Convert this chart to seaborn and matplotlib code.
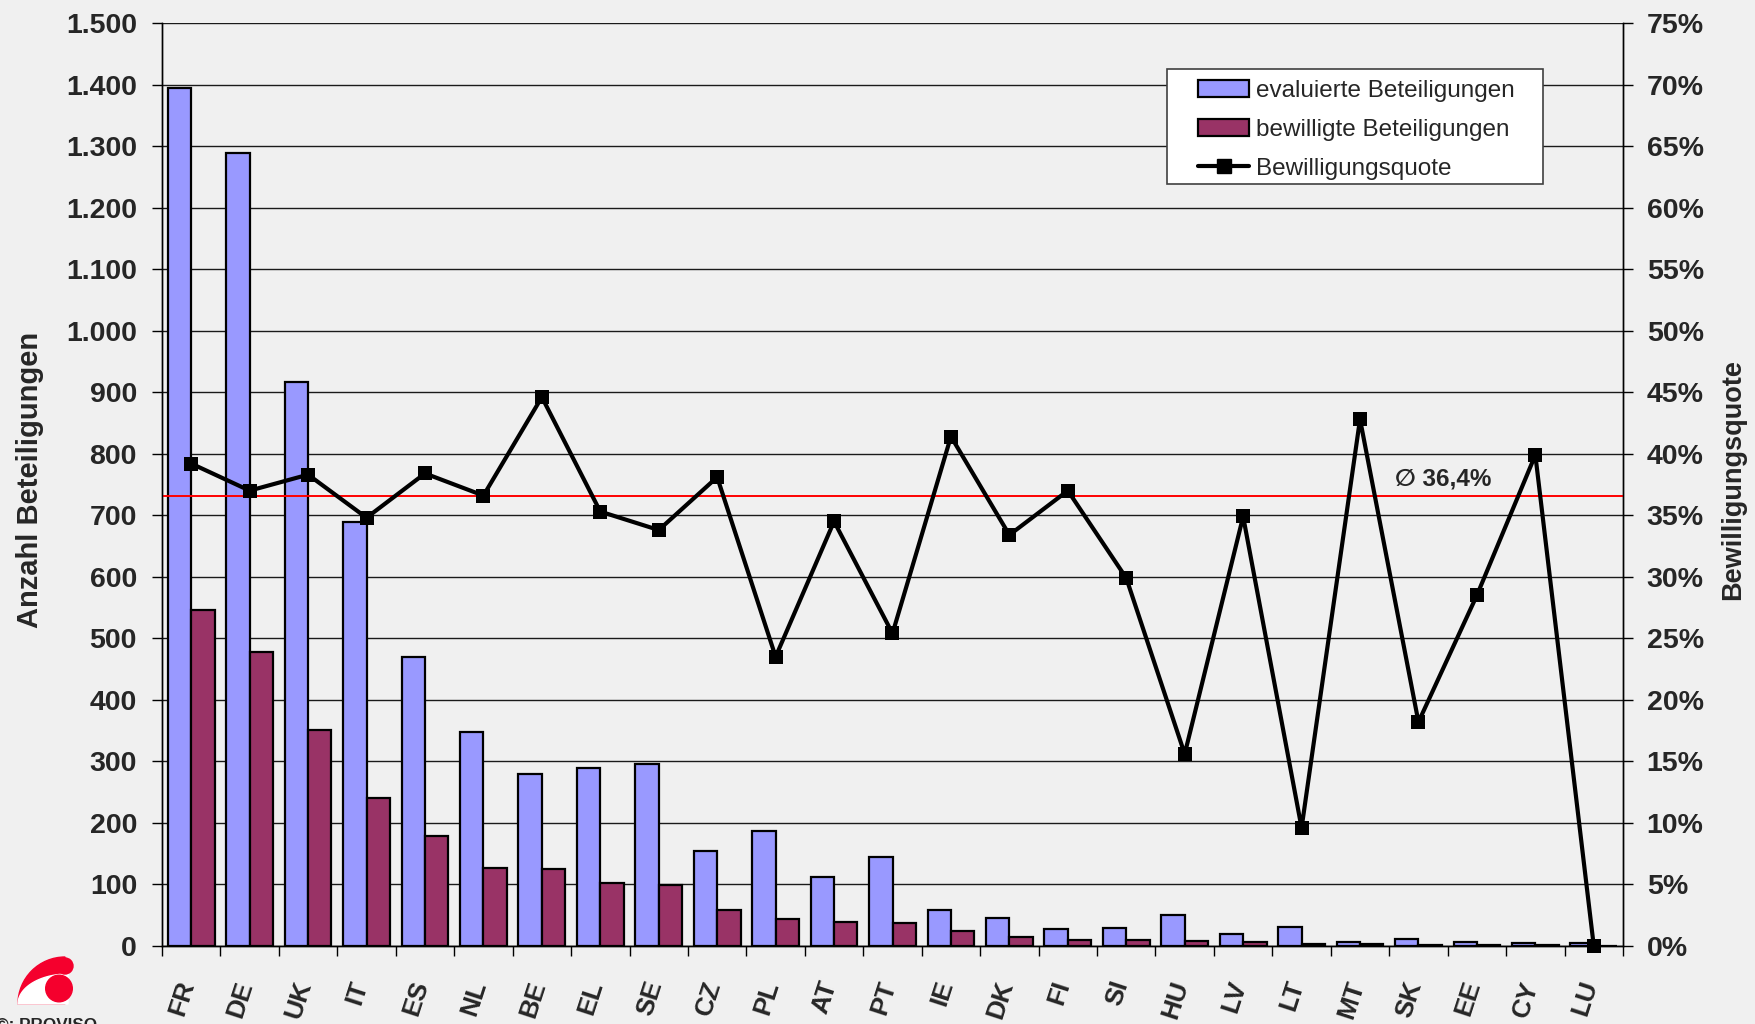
import numpy as np
import pandas as pd
import matplotlib
matplotlib.use("Agg")
import matplotlib.pyplot as plt
import seaborn as sns
from matplotlib.patches import Patch, Rectangle, Wedge, Circle, Polygon
from matplotlib.lines import Line2D
from matplotlib.ticker import FuncFormatter, MultipleLocator
from matplotlib.transforms import ScaledTranslation

# data
countries = ["FR", "DE", "UK", "IT", "ES", "NL", "BE", "EL", "SE", "CZ", "PL", "AT", "PT",
             "IE", "DK", "FI", "SI", "HU", "LV", "LT", "MT", "SK", "EE", "CY", "LU"]
evaluiert = [1394, 1289, 916, 689, 469, 347, 280, 289, 295, 155, 187, 112, 145,
             58, 45, 27, 30, 51, 20, 31, 7, 11, 7, 5, 5]
bewilligt = [546, 477, 351, 240, 179, 127, 125, 102, 99, 59, 44, 39, 37,
             24, 15, 10, 9, 8, 7, 3, 3, 2, 2, 2, 0]
quote = [39.2, 37.0, 38.3, 34.8, 38.4, 36.6, 44.6, 35.3, 33.8, 38.1, 23.5, 34.5, 25.4,
         41.4, 33.4, 37.0, 29.9, 15.6, 34.9, 9.6, 42.8, 18.2, 28.5, 39.9, 0.0]
avg_quote = 36.6
avg_label = "\u2205 36,4%"

series_names = ["evaluierte Beteiligungen", "bewilligte Beteiligungen"]
line_name = "Bewilligungsquote"
bar_colors = ["#9999FF", "#993366"]
bg = "#F0F0F0"

sns.set_theme(style="white")
plt.rcParams["font.family"] = ["Liberation Sans", "DejaVu Sans"]
plt.rcParams["font.weight"] = "bold"

df = pd.DataFrame({"Land": countries, series_names[0]: evaluiert, series_names[1]: bewilligt})
long = df.melt(id_vars="Land", var_name="Art", value_name="Anzahl")

W, H = 1755, 1024
fig = plt.figure(figsize=(W / 100, H / 100), dpi=100, facecolor=bg)
ax = fig.add_axes([162 / W, 1 - 946 / H, (1623 - 162) / W, (946 - 23) / H])
ax.set_facecolor(bg)

sns.barplot(data=long, x="Land", y="Anzahl", hue="Art", palette=bar_colors, saturation=1,
            width=0.8, edgecolor="black", linewidth=1.6, errorbar=None, legend=False, ax=ax)

ax.set_ylim(0, 1500)
ax.yaxis.set_major_locator(MultipleLocator(100))
ax.yaxis.set_major_formatter(FuncFormatter(lambda v, p: f"{int(v):,}".replace(",", ".")))
ax.grid(axis="y", color="#1a1a1a", lw=1)
ax.set_axisbelow(True)

# line on the percentage axis
ax2 = ax.twinx()
ax2.axhline(avg_quote, color="red", lw=1.4, zorder=1.5)
sns.lineplot(x=np.arange(len(countries)), y=quote, ax=ax2, color="black", lw=3.0,
             marker="s", markersize=10.5, markeredgecolor="black", markeredgewidth=0,
             clip_on=False, zorder=3)
ax2.set_ylim(0, 75)
ax2.yaxis.set_major_locator(MultipleLocator(5))
ax2.yaxis.set_major_formatter(FuncFormatter(lambda v, p: f"{int(round(v))}%"))
ax2.text(20.6, 37.4, avg_label, fontsize=17.5, fontweight="bold", ha="left", va="baseline")

ax.set_xlim(-0.5, len(countries) - 0.5)

# x ticks at category borders, labels at centres
ax.set_xticks(range(len(countries)))
ax.set_xticklabels(countries, rotation=72, ha="center", va="top", fontsize=19)
ax.set_xticks(np.arange(-0.5, len(countries)), minor=True)
ax.tick_params(axis="x", which="major", length=0, pad=23)
ax.tick_params(axis="x", which="minor", bottom=True, length=7.2, width=1, color="black")
ax.tick_params(axis="y", left=True, length=7.2, width=1, color="black", labelsize=20.5, pad=10.8)
ax2.tick_params(axis="y", right=True, length=7.2, width=1, color="black", labelsize=20.5, pad=9.9)
shift = ScaledTranslation(-9 / 100, 0, fig.dpi_scale_trans)
for lbl in ax.get_xticklabels():
    lbl.set_transform(lbl.get_transform() + shift)

for a in (ax, ax2):
    a.spines["top"].set_visible(False)
    for s in ("left", "right", "bottom"):
        a.spines[s].set_color("black")
        a.spines[s].set_linewidth(1)

ax.set_xlabel("")
ax.set_ylabel("Anzahl Beteiligungen", fontsize=21, fontweight="bold")
ax.yaxis.set_label_coords((30 - 162) / 1461, 0.505)
ax.yaxis.label.set_va("center")
ax2.set_ylabel(line_name, fontsize=19.5, fontweight="bold", rotation=90)
ax2.yaxis.set_label_coords((1733 - 162) / 1461, 0.505)
ax2.yaxis.label.set_va("center")

# legend box
ax2.add_patch(Rectangle((0.688, 0.8258), 0.2574, 0.1246, transform=ax2.transAxes,
                        facecolor="white", edgecolor="#404040", lw=1.2, zorder=4))
handles = [Patch(facecolor=bar_colors[0], edgecolor="black", lw=1.6),
           Patch(facecolor=bar_colors[1], edgecolor="black", lw=1.6),
           Line2D([], [], color="black", lw=3.0, marker="s", markersize=10.5)]
leg = ax2.legend(handles, series_names + [line_name], loc="upper left",
                 bbox_to_anchor=(0.7091, 0.9386), borderaxespad=0, borderpad=0,
                 frameon=False, prop={"size": 17.5, "weight": "normal"},
                 handlelength=2.1, handletextpad=0.3, labelspacing=0.70)
leg.set_zorder(5)

# logo bottom left
lax = fig.add_axes([0, 0, 100 / W, 84 / H])
lax.set_xlim(0, 100)
lax.set_ylim(1024, 940)
lax.axis("off")
red = "#F5002D"
lax.add_patch(Wedge((65, 1004), 47, 180, 270, color=red))
t = np.linspace(np.pi, 1.5 * np.pi, 40)
pts = np.column_stack([68 + 50 * np.cos(t), 1004 + 30 * np.sin(t)])
pts = np.vstack([pts, [[68, 1004]]])
lax.add_patch(Polygon(pts, closed=True, color="white"))
lax.add_patch(Circle((65, 966), 8, color=red))
lax.add_patch(Circle((59, 988.5), 13.3, color=red))
fig.text(-4 / W, 1 - 1030 / H, "\u00a9: PROVISO", fontsize=12.3, fontweight="bold",
         ha="left", va="baseline")

fig.savefig("out.png", dpi=100, facecolor=bg)
